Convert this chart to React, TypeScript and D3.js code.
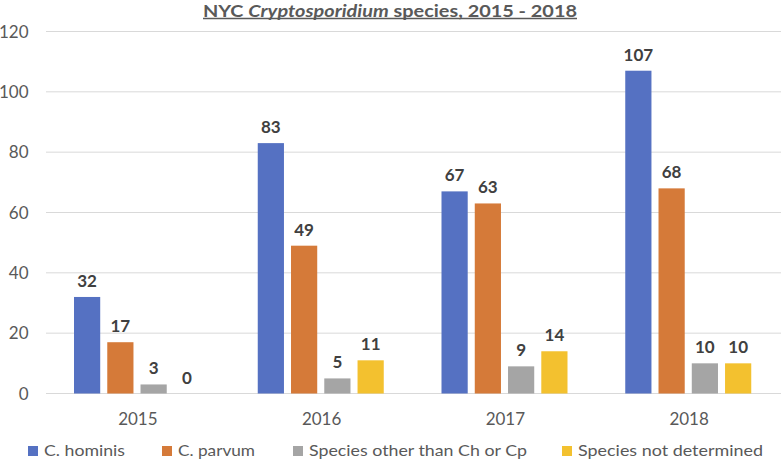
import React from "react";
import * as d3 from "d3";

const years = ["2015", "2016", "2017", "2018"];
const seriesNames = ["C. hominis", "C. parvum", "Species other than Ch or Cp", "Species not determined"];
const hominis = [32, 83, 67, 107];
const parvum = [17, 49, 63, 68];
const otherSpecies = [3, 5, 9, 10];
const notDetermined = [0, 11, 14, 10];
const yTicks = [0, 20, 40, 60, 80, 100, 120];
const colors = ["#5571c2", "#d57a39", "#a5a5a5", "#f3c12f"];

const W = 781;
const H = 461;

export default function App() {
  const values = [hominis, parvum, otherSpecies, notDetermined];
  const x0 = d3.scaleBand<string>().domain(years).range([46, 781]).paddingInner(0).paddingOuter(0);
  const x1 = d3
    .scaleBand<string>()
    .domain(seriesNames)
    .range([28, 28 + 126])
    .paddingInner(7 / 33)
    .paddingOuter(0);
  const y = d3.scaleLinear().domain([0, 120]).range([393.5, 31.5]);

  const font = "Lato, 'Open Sans', sans-serif";
  const legendX = [28, 162, 293, 562];
  const legendW = [81, 77, 218, 185];

  return (
    <svg
      width={W}
      height={H}
      style={{ position: "absolute", left: 0, top: 0, background: "#fff" }}
      fontFamily={font}
    >
      {yTicks.map((t) => (
        <line key={t} x1={46} x2={781} y1={y(t)} y2={y(t)} stroke="#d9d9d9" strokeWidth={1} />
      ))}
      {yTicks.map((t) => (
        <text key={"yl" + t} x={28.5} y={y(t) + 6} textAnchor="end" fontSize={17} fill="#595959">
          {t}
        </text>
      ))}
      {years.map((yr, i) => (
        <g key={yr} transform={`translate(${x0(yr)},0)`}>
          {seriesNames.map((s, j) => {
            const v = values[j][i];
            const bx = x1(s)!;
            const bw = x1.bandwidth();
            return (
              <g key={s}>
                <rect x={bx} y={y(v)} width={bw} height={y(0) - y(v)} fill={colors[j]} />
                <text
                  x={bx + bw / 2}
                  y={y(v) - 10}
                  textAnchor="middle"
                  fontSize={17}
                  fontWeight="bold"
                  fill="#404040"
                >
                  {v}
                </text>
              </g>
            );
          })}
          <text x={x0.bandwidth() / 2} y={425} textAnchor="middle" fontSize={17} fill="#595959">
            {yr}
          </text>
        </g>
      ))}
      <text x={390} y={16.5} textAnchor="middle" fontSize={17.5} fontWeight="bold" fill="#595959" textLength={374} lengthAdjust="spacingAndGlyphs">
        NYC <tspan fontStyle="italic">Cryptosporidium</tspan> species, 2015 - 2018
      </text>
      <line x1={203} x2={577} y1={18.5} y2={18.5} stroke="#595959" strokeWidth={1.3} />
      {seriesNames.map((s, j) => (
        <g key={"lg" + s}>
          <rect x={legendX[j]} y={446} width={10} height={10} fill={colors[j]} />
          <text
            x={legendX[j] + 16}
            y={456}
            fontSize={16}
            fill="#595959"
            textLength={legendW[j]}
            lengthAdjust="spacingAndGlyphs"
          >
            {s}
          </text>
        </g>
      ))}
    </svg>
  );
}
